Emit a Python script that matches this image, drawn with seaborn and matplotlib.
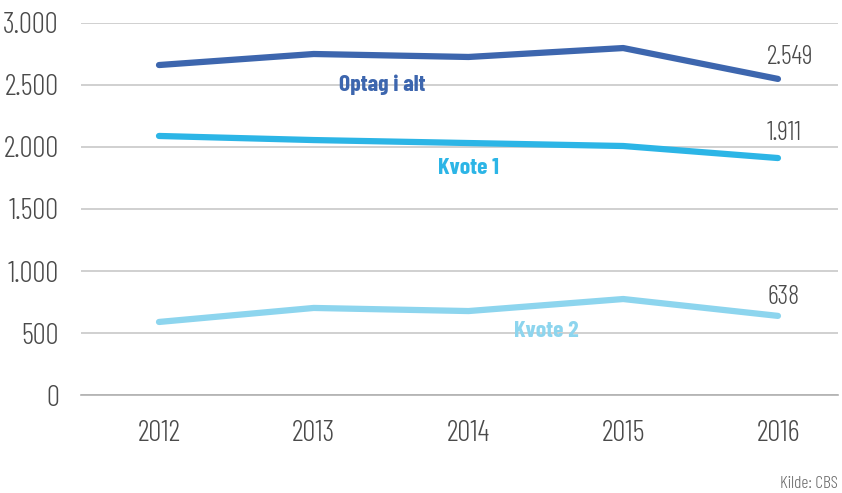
import matplotlib
matplotlib.use("Agg")
import matplotlib.pyplot as plt
import seaborn as sns
import pandas as pd
from matplotlib import font_manager
from matplotlib.ticker import FixedLocator, FuncFormatter

years = ["2012", "2013", "2014", "2015", "2016"]
optag = [2661, 2750, 2726, 2798, 2549]
kvote1 = [2089, 2056, 2032, 2008, 1911]
kvote2 = [589, 702, 677, 774, 638]
series_names = ["Optag i alt", "Kvote 1", "Kvote 2"]
colors = ["#3d66ae", "#2cb5e6", "#8dd5ee"]
yticks = [0, 500, 1000, 1500, 2000, 2500, 3000]

sns.set_style("white")
names = {f.name for f in font_manager.fontManager.ttflist}
fam = "Barlow Condensed" if "Barlow Condensed" in names else "DejaVu Sans"
plt.rcParams["font.family"] = [fam, "DejaVu Sans"]

df = pd.DataFrame({"year": years * 3,
                   "value": optag + kvote1 + kvote2,
                   "series": sum([[n] * len(years) for n in series_names], [])})
df["x"] = df["year"].map({y: i for i, y in enumerate(years)})

fig = plt.figure(figsize=(8.42, 4.93), dpi=100)
W, H = 842, 493
ax = fig.add_axes([81 / W, 1 - 395 / H, (838 - 81) / W, (395 - 23) / H])

sns.lineplot(data=df, x="x", y="value", hue="series", palette=colors,
             hue_order=series_names, linewidth=4.5, ax=ax, legend=False,
             solid_capstyle="round")

ax.set_xlim(-0.504, 4.388)
ax.set_ylim(0, 3000)
ax.yaxis.set_major_locator(FixedLocator(yticks))
ax.yaxis.set_major_formatter(FuncFormatter(lambda v, p: f"{int(v):,}".replace(",", ".")))
ax.set_xticks(range(len(years)))
ax.set_xticklabels(years)
ax.grid(axis="y", color="#c8c8c8", linewidth=1.2)
ax.set_axisbelow(True)
for s in ["left", "right", "top"]:
    ax.spines[s].set_visible(False)
ax.spines["bottom"].set_color("#b0b0b0")
ax.spines["bottom"].set_linewidth(1.2)
ax.tick_params(axis="x", direction="in", length=5, color="#b0b0b0", width=1,
               labelsize=21, labelcolor="#4a4a4a", pad=18)
ax.tick_params(axis="y", length=0, labelsize=21, labelcolor="#4a4a4a", pad=16)
for lab in ax.get_xticklabels() + ax.get_yticklabels():
    lab.set_fontweight(300)
ax.set_xlabel("")
ax.set_ylabel("")

# series labels
ax.text(1.44, 2500, series_names[0], color=colors[0], fontsize=17, fontweight="bold",
        ha="center", va="center")
ax.text(2.0, 1831, series_names[1], color=colors[1], fontsize=17, fontweight="bold",
        ha="center", va="center")
ax.text(2.5, 516, series_names[2], color=colors[2], fontsize=17, fontweight="bold",
        ha="center", va="center")

# end value labels
for vals, ypos in zip([optag, kvote1, kvote2], [2726, 2113, 790]):
    ax.text(3.93, ypos, f"{vals[-1]:,}".replace(",", "."), color="#4a4a4a",
            fontsize=19, fontweight=300, ha="left", va="center")

fig.text(838 / W, 1 - 484 / H, "Kilde: CBS", color="#6a6a6a", fontsize=12.5,
         fontweight=300, ha="right", va="center")

fig.savefig("out.png", dpi=100)
